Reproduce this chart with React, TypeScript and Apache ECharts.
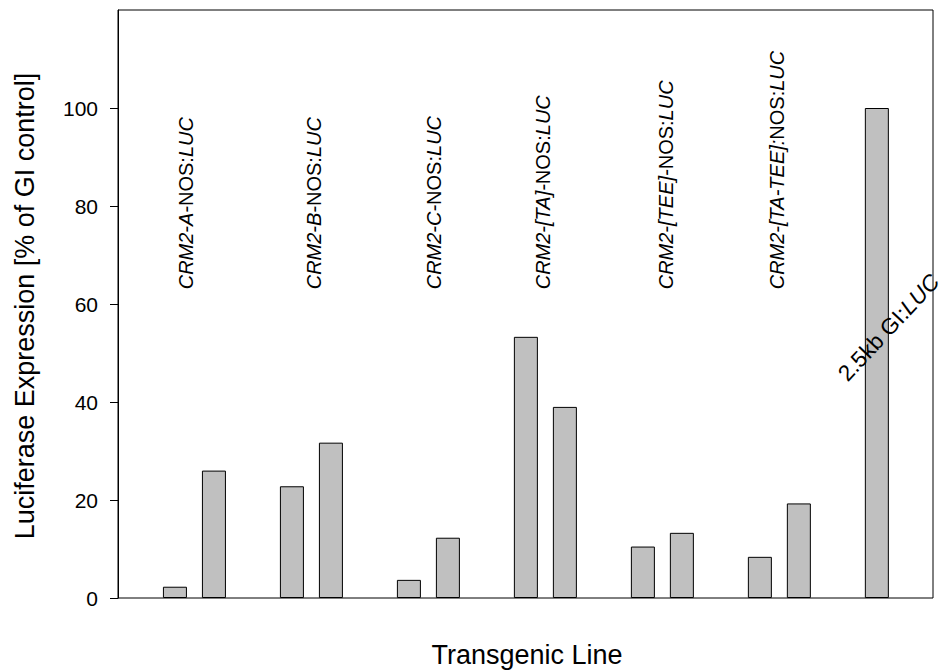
import React, { useEffect, useRef } from "react";
import * as echarts from "echarts";

// Bar slots (x positions on a numeric axis) and values
const barSlots = [1, 2, 4, 5, 7, 8, 10, 11, 13, 14, 16, 17, 19];
const barValues = [2.3, 26, 22.8, 31.7, 3.7, 12.3, 53.3, 39, 10.5, 13.3, 8.4, 19.3, 100];

// Construct labels (rotated) : prefix italic, "NOS:" upright, "LUC" italic
const constructPrefixes = ["CRM2-A-", "CRM2-B-", "CRM2-C-", "CRM2-[TA]-", "CRM2-[TEE]-", "CRM2-[TA-TEE]:"];
const constructLabelX = [1.28, 4.56, 7.64, 10.44, 13.59, 16.44];
const constructLabelY = 63;

const controlLabel = ["2.5kb GI:", "LUC"];
const controlLabelPos = [18.33, 43.4];

const yTicks = [0, 20, 40, 60, 80, 100];

export default function App() {
  const ref = useRef<HTMLDivElement>(null);
  useEffect(() => {
    if (!ref.current) return;
    const chart = echarts.init(ref.current, null, { renderer: "svg" });
    const font = "'Liberation Sans', Arial, sans-serif";
    const mkRich = (size: number) => ({
      it: { fontStyle: "italic", fontSize: size, fontFamily: font, color: "#000" },
      up: { fontStyle: "normal", fontSize: size, fontFamily: font, color: "#000" },
    });
    chart.setOption({
      animation: false,
      backgroundColor: "#fff",
      grid: {
        left: 118,
        right: 10,
        top: 10,
        bottom: 73,
        show: true,
        borderColor: "#000",
        borderWidth: 1,
        backgroundColor: "transparent",
      },
      xAxis: {
        type: "value",
        min: -0.46,
        max: 20.44,
        axisLine: { show: false },
        axisTick: { show: false },
        axisLabel: { show: false },
        splitLine: { show: false },
      },
      yAxis: {
        type: "value",
        min: 0,
        max: 120,
        interval: 20,
        axisLine: { show: true, onZero: false, lineStyle: { color: "#000", width: 1 } },
        axisTick: {
          show: true,
          length: 8,
          inside: false,
          customValues: yTicks,
          lineStyle: { color: "#000", width: 1 },
        },
        axisLabel: {
          customValues: yTicks,
          color: "#000",
          fontSize: 21,
          fontFamily: font,
          margin: 20,
        },
        splitLine: { show: false },
      },
      graphic: [
        {
          type: "text",
          x: 25,
          y: 306,
          rotation: Math.PI / 2,
          style: {
            text: "Luciferase Expression [% of GI control]",
            fontSize: 27,
            fontFamily: font,
            fill: "#000",
            align: "center",
            verticalAlign: "middle",
          },
        },
        {
          type: "text",
          x: 527,
          y: 655,
          style: {
            text: "Transgenic Line",
            fontSize: 27,
            fontFamily: font,
            fill: "#000",
            align: "center",
            verticalAlign: "middle",
          },
        },
      ],
      series: [
        {
          type: "bar",
          data: barSlots.map((x, i) => [x, barValues[i]]),
          barWidth: 24,
          itemStyle: { color: "#c0c0c0", borderColor: "#000", borderWidth: 1 },
          silent: true,
        },
        {
          type: "scatter",
          symbolSize: 0,
          silent: true,
          itemStyle: { opacity: 1 },
          data: constructLabelX.map((x, i) => ({ value: [x, constructLabelY], name: constructPrefixes[i] })),
          label: {
            show: true,
            position: "inside",
            rotate: 90,
            align: "left",
            verticalAlign: "middle",
            color: "#000",
            opacity: 1,
            formatter: (p: any) => `{it|${p.name}}{up|NOS:}{it|LUC}`,
            rich: mkRich(20),
          },
        },
        {
          type: "scatter",
          symbolSize: 0,
          silent: true,
          itemStyle: { opacity: 1 },
          data: [{ value: controlLabelPos, name: "control" }],
          label: {
            show: true,
            position: "inside",
            rotate: 47,
            align: "left",
            verticalAlign: "bottom",
            color: "#000",
            opacity: 1,
            formatter: () => `{up|${controlLabel[0]}}{it|${controlLabel[1]}}`,
            rich: mkRich(22.5),
          },
        },
      ],
    });
    return () => chart.dispose();
  }, []);
  return <div ref={ref} style={{ position: "fixed", left: 0, top: 0, width: 943, height: 671 }} />;
}
